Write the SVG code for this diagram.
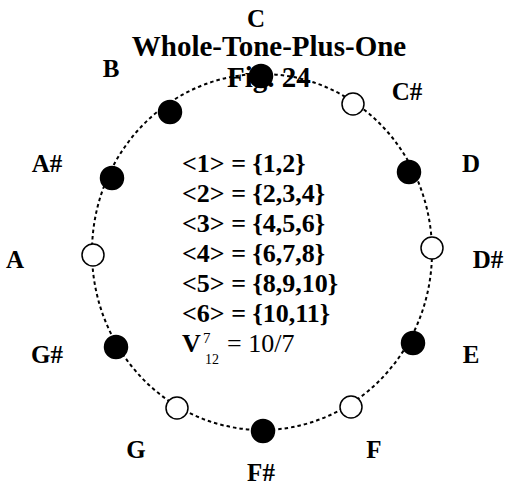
<svg xmlns="http://www.w3.org/2000/svg" width="507" height="487" viewBox="0 0 507 487">
<style>
text{font-family:"Liberation Serif","Times New Roman",serif;fill:#000}
.lbl{font-size:25px;font-weight:bold;text-anchor:middle}
.ttl{font-size:29px;font-weight:bold}
.body{font-size:26px;font-weight:bold}
.filled{fill:#000;stroke:#000;stroke-width:1.5}
.open{fill:#fff;stroke:#000;stroke-width:1.5}
.ring{fill:none;stroke:#000;stroke-width:2;stroke-dasharray:3.5 3}
</style>
<rect width="507" height="487" fill="#fff"/>
<g id="connectors">
<ellipse class="ring" cx="262" cy="252" rx="170" ry="178"/>
</g>
<g id="title">
<text class="ttl" x="269" y="56" text-anchor="middle">Whole-Tone-Plus-One</text>
<text class="ttl" x="227" y="87">Fig. 24</text>
</g>
<g id="n-C"><circle class="filled" cx="261" cy="76" r="11.5"/><text class="lbl" x="256" y="27">C</text></g>
<g id="n-Cs"><circle class="open" cx="353" cy="104" r="11"/><text class="lbl" x="407" y="100">C#</text></g>
<g id="n-D"><circle class="filled" cx="409" cy="172" r="11.5"/><text class="lbl" x="471" y="172">D</text></g>
<g id="n-Ds"><circle class="open" cx="432" cy="248" r="11"/><text class="lbl" x="488" y="268">D#</text></g>
<g id="n-E"><circle class="filled" cx="413" cy="343" r="11.5"/><text class="lbl" x="471" y="363">E</text></g>
<g id="n-F"><circle class="open" cx="351" cy="407" r="11"/><text class="lbl" x="374" y="458">F</text></g>
<g id="n-Fs"><circle class="filled" cx="263" cy="431" r="11.5"/><text class="lbl" x="261" y="481">F#</text></g>
<g id="n-G"><circle class="open" cx="177" cy="408" r="11"/><text class="lbl" x="136" y="458">G</text></g>
<g id="n-Gs"><circle class="filled" cx="116" cy="347" r="11.5"/><text class="lbl" x="47" y="363">G#</text></g>
<g id="n-A"><circle class="open" cx="93" cy="255" r="11"/><text class="lbl" x="15" y="268">A</text></g>
<g id="n-As"><circle class="filled" cx="112" cy="178" r="11.5"/><text class="lbl" x="47" y="172">A#</text></g>
<g id="n-B"><circle class="filled" cx="170" cy="112" r="11.5"/><text class="lbl" x="111" y="77">B</text></g>
<g id="formulas">
<text class="body" x="182" y="172">&lt;1&gt; = {1,2}</text>
<text class="body" x="182" y="202">&lt;2&gt; = {2,3,4}</text>
<text class="body" x="182" y="232">&lt;3&gt; = {4,5,6}</text>
<text class="body" x="182" y="262">&lt;4&gt; = {6,7,8}</text>
<text class="body" x="182" y="292">&lt;5&gt; = {8,9,10}</text>
<text class="body" x="182" y="322">&lt;6&gt; = {10,11}</text>
<text class="body" x="182" y="352">V</text>
<text x="203" y="343" style="font-size:15px">7</text>
<text x="205" y="364" style="font-size:14px">12</text>
<text x="227" y="352" style="font-size:26px">= 10/7</text>
</g>
</svg>
